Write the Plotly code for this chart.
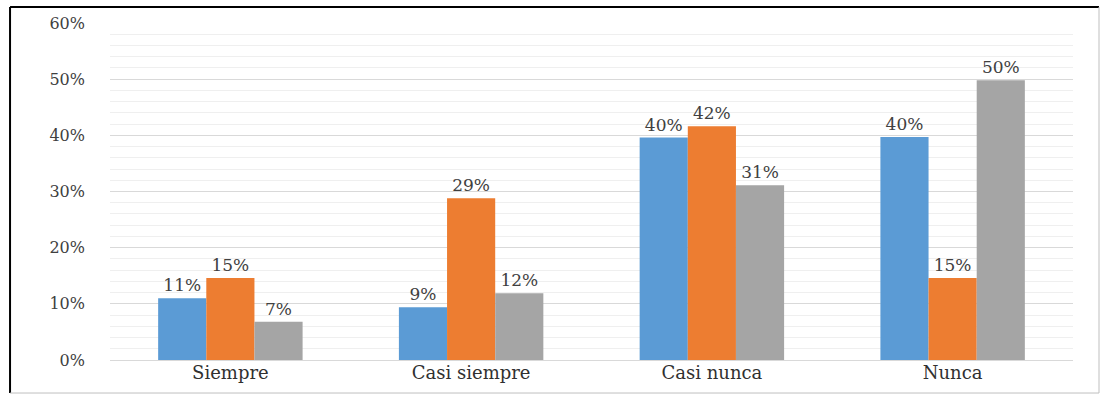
import plotly.graph_objects as go

categories = ["Siempre", "Casi siempre", "Casi nunca", "Nunca"]
serie1 = [0.110, 0.094, 0.396, 0.397]
serie2 = [0.146, 0.288, 0.416, 0.146]
serie3 = [0.068, 0.119, 0.311, 0.498]
colors = ["#5B9BD5", "#ED7D31", "#A5A5A5"]
y_ticks = [0, 0.1, 0.2, 0.3, 0.4, 0.5, 0.6]

font_family = "DejaVu Serif, Liberation Serif, serif"

fig = go.Figure()
for vals, col in zip([serie1, serie2, serie3], colors):
    fig.add_trace(go.Bar(
        x=categories, y=vals, marker=dict(color=col, line=dict(width=0)),
        texttemplate="%{y:.0%}", textposition="outside",
        textfont=dict(family=font_family, size=17, color="#404040"),
        cliponaxis=False, showlegend=False,
    ))

fig.update_layout(
    width=1101, height=395,
    margin=dict(l=110, r=28, t=23, b=35),
    paper_bgcolor="white", plot_bgcolor="white",
    barmode="group", bargap=0.4, bargroupgap=0,
    uniformtext=dict(minsize=17, mode="show"),
    font=dict(family=font_family, color="#404040"),
    xaxis=dict(showgrid=False, showline=False, ticks="",
               tickfont=dict(family=font_family, size=18, color="#303030")),
    yaxis=dict(range=[0, 0.6], tickvals=y_ticks, tickformat=".0%",
               showgrid=True, gridcolor="#D9D9D9", gridwidth=1,
               minor=dict(dtick=0.02, showgrid=True, gridcolor="#EFEFEF", gridwidth=1),
               zeroline=True, zerolinecolor="#D9D9D9", zerolinewidth=1,
               showline=False, ticks="", ticklabelstandoff=24,
               tickfont=dict(family=font_family, size=16, color="#404040")),
    shapes=[
        dict(type="line", xref="paper", yref="paper", x0=-0.1038, x1=1.027, y0=1.0475, y1=1.0475,
             line=dict(color="black", width=2)),
        dict(type="line", xref="paper", yref="paper", x0=-0.1038, x1=-0.1038, y0=1.0475, y1=-0.098,
             line=dict(color="black", width=2)),
        dict(type="line", xref="paper", yref="paper", x0=1.027, x1=1.027, y0=1.0475, y1=-0.098,
             line=dict(color="#BFBFBF", width=1)),
        dict(type="line", xref="paper", yref="paper", x0=-0.1038, x1=1.027, y0=-0.098, y1=-0.098,
             line=dict(color="#BFBFBF", width=1)),
    ],
)

fig.write_html("out.html")
